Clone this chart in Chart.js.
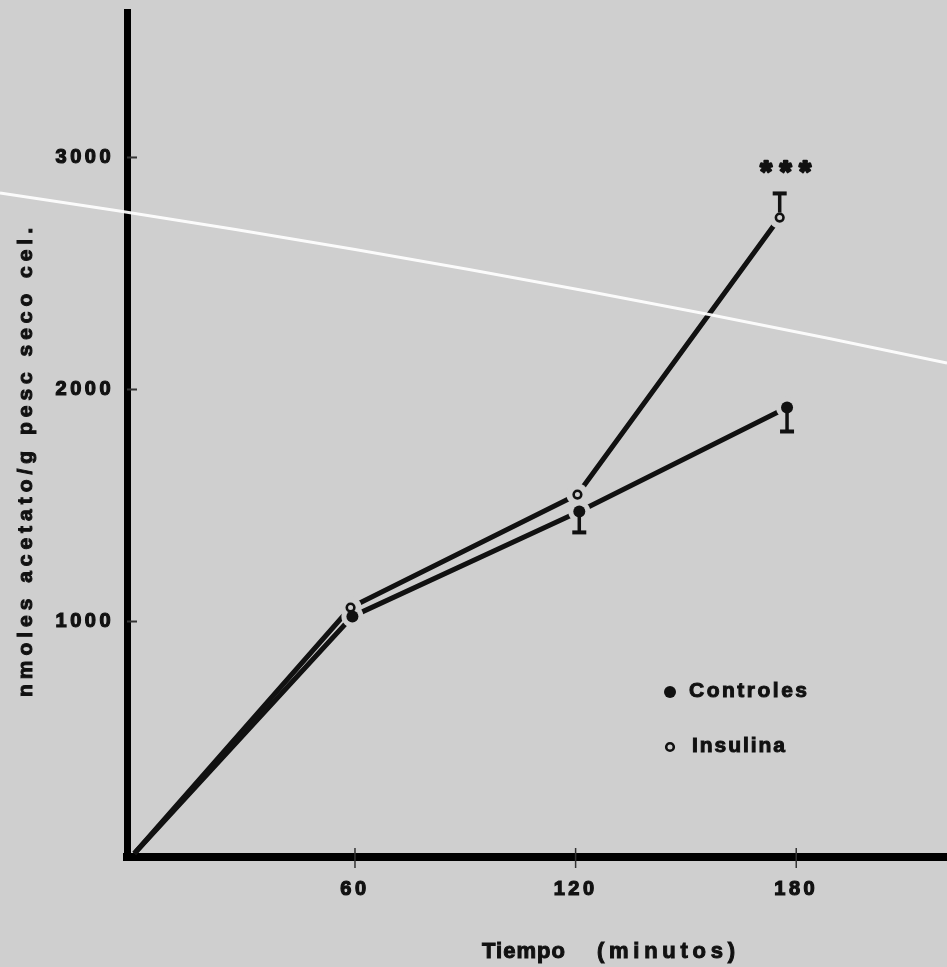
<!DOCTYPE html>
<html>
<head>
<meta charset="utf-8">
<script src="https://cdn.jsdelivr.net/npm/chart.js@4.4.1/dist/chart.umd.min.js"></script>
<style>
    html, body { margin: 0; padding: 0; background: #cfcfcf; }
    #chart { display: block; }
</style>
</head>
<body>
<canvas id="chart" width="947" height="967"></canvas>
<script>
/* ============================= */
/*      DATA                     */
/* ============================= */
const seriesNames = ['Controles', 'Insulina'];
const tiempoControles = [0, 59.3, 121, 177.5];
const valControles = [0, 1022, 1474, 1922];
const errControlesLow = [null, null, 1384, 1819];
const tiempoInsulina = [0, 58.8, 120.5, 175.5];
const valInsulina = [0, 1060, 1547, 2741];
const errInsulinaHigh = [null, null, null, 2845];
const signifInsulina = [null, null, null, '***'];
const xTicks = [60, 120, 180];
const yTicks = [1000, 2000, 3000];
const xTitle = ['Tiempo', '(minutos)'];
const yTitle = 'nmoles acetato/g pesc seco cel.';

/* ============================= */
/*      STYLE                    */
/* ============================= */
const BG = '#cfcfcf';
const INK = '#111111';
const FONT = '"Liberation Sans", Arial, sans-serif';

// draw text stretched with letter spacing so it spans `width` (stroked a bit, like the print)
function spacedText(ctx, text, x, y, width) {
    ctx.letterSpacing = '0px';
    const w = ctx.measureText(text).width;
    const sp = text.length > 1 ? (width - w) / (text.length - 1) : 0;
    ctx.letterSpacing = sp + 'px';
    ctx.textAlign = 'left';
    ctx.lineWidth = 1;
    ctx.strokeStyle = INK;
    ctx.fillText(text, x, y);
    ctx.strokeText(text, x, y);
    ctx.letterSpacing = '0px';
}

/* ============================= */
/*      PLUGINS                  */
/* ============================= */
const paperPlugin = {
    id: 'paper',
    beforeDraw(chart) {
        const ctx = chart.ctx;
        ctx.save();
        ctx.fillStyle = BG;
        ctx.fillRect(0, 0, chart.width, chart.height);
        ctx.restore();
        // tick labels are printed with wide spacing
        ctx.letterSpacing = '3.5px';
    }
};

const markerPlugin = {
    id: 'markers',
    afterDatasetsDraw(chart) {
        const ctx = chart.ctx;
        const yScale = chart.scales.y;
        const metas = chart.data.datasets.map((ds, i) => chart.getDatasetMeta(i));
        ctx.save();
        // halos: lines stop short of the markers
        metas.forEach((meta, i) => {
            meta.data.forEach((pt, j) => {
                if (chart.data.datasets[i].data[j].y === 0) return;
                ctx.fillStyle = BG;
                ctx.beginPath();
                ctx.arc(pt.x, pt.y, 11, 0, Math.PI * 2);
                ctx.fill();
            });
        });
        // error bars
        ctx.strokeStyle = INK;
        ctx.fillStyle = INK;
        const bars = [errControlesLow, errInsulinaHigh];
        metas.forEach((meta, i) => {
            meta.data.forEach((pt, j) => {
                const e = bars[i][j];
                if (e == null) return;
                const ey = yScale.getPixelForValue(e);
                const dir = ey > pt.y ? 1 : -1;
                ctx.lineWidth = 3.5;
                ctx.beginPath();
                ctx.moveTo(pt.x, pt.y + dir * 5);
                ctx.lineTo(pt.x, ey);
                ctx.stroke();
                ctx.fillRect(pt.x - 7, ey - 2, 14, 4);
            });
        });
        // markers
        metas.forEach((meta, i) => {
            meta.data.forEach((pt, j) => {
                if (chart.data.datasets[i].data[j].y === 0) return;
                ctx.beginPath();
                if (i === 0) {
                    ctx.arc(pt.x, pt.y, 6, 0, Math.PI * 2);
                    ctx.fill();
                } else {
                    ctx.lineWidth = 2.6;
                    ctx.arc(pt.x, pt.y, 3.8, 0, Math.PI * 2);
                    ctx.stroke();
                }
            });
        });
        // significance stars
        metas[1].data.forEach((pt, j) => {
            const s = signifInsulina[j];
            if (!s) return;
            const top = yScale.getPixelForValue(errInsulinaHigh[j]);
            ctx.font = 'bold 30px ' + FONT;
            ctx.letterSpacing = '0px';
            const m = ctx.measureText('*');
            const off = (m.actualBoundingBoxAscent - m.actualBoundingBoxDescent) / 2;
            ctx.textAlign = 'center';
            ctx.textBaseline = 'alphabetic';
            ctx.lineWidth = 2.5;
            ctx.lineJoin = 'round';
            for (let k = 0; k < s.length; k++) {
                const sx = pt.x + 6 + (k - 1) * 19.5;
                ctx.fillText(s[k], sx, top - 26 + off);
                ctx.strokeText(s[k], sx, top - 26 + off);
            }
        });
        ctx.restore();
    }
};

const annotatePlugin = {
    id: 'annotate',
    afterDraw(chart) {
        const ctx = chart.ctx;
        const {x, y} = chart.scales;
        ctx.save();
        ctx.letterSpacing = '0px';
        ctx.strokeStyle = '#333';
        // small tick marks on the axes
        ctx.lineWidth = 1.5;
        xTicks.forEach(v => {
            const px = x.getPixelForValue(v);
            ctx.beginPath();
            ctx.moveTo(px, y.bottom - 9);
            ctx.lineTo(px, y.bottom + 11);
            ctx.stroke();
        });
        ctx.lineWidth = 2;
        yTicks.forEach(v => {
            const py = y.getPixelForValue(v);
            ctx.beginPath();
            ctx.moveTo(x.left, py);
            ctx.lineTo(x.left + 10, py);
            ctx.stroke();
        });

        ctx.fillStyle = INK;
        ctx.textBaseline = 'alphabetic';
        // legend inside the plot
        ctx.font = 'bold 21px ' + FONT;
        ctx.beginPath();
        ctx.arc(670, 692, 6, 0, Math.PI * 2);
        ctx.fill();
        spacedText(ctx, seriesNames[0], 689, 697, 118);
        ctx.lineWidth = 2.6;
        ctx.strokeStyle = INK;
        ctx.beginPath();
        ctx.arc(670, 747, 3.8, 0, Math.PI * 2);
        ctx.stroke();
        spacedText(ctx, seriesNames[1], 692, 752, 93);

        // x title
        ctx.font = 'bold 22px ' + FONT;
        spacedText(ctx, xTitle[0], 482, 958, 83);
        spacedText(ctx, xTitle[1], 597, 958, 138);

        // y title, rotated
        ctx.save();
        ctx.translate(32, 697);
        ctx.rotate(-Math.PI / 2);
        ctx.font = 'bold 21px ' + FONT;
        spacedText(ctx, yTitle, 0, 0, 469);
        ctx.restore();

        // scratch across the scanned sheet, over the ink
        ctx.strokeStyle = 'rgba(255,255,255,0.92)';
        ctx.lineWidth = 3;
        ctx.beginPath();
        ctx.moveTo(0, 193);
        ctx.quadraticCurveTo(470, 262, 947, 363);
        ctx.stroke();
        ctx.restore();
    }
};

/* ============================= */
/*      CHART                    */
/* ============================= */
const toPoints = (xs, ys) => xs.map((t, i) => ({ x: t, y: ys[i] }));

const tickFont = { family: FONT, size: 20, weight: 'bold' };

new Chart(document.getElementById('chart'), {
    type: 'line',
    data: {
        datasets: [{
            label: seriesNames[0],
            data: toPoints(tiempoControles, valControles),
            borderColor: INK,
            borderWidth: 5,
            pointRadius: 0,
            tension: 0
        }, {
            label: seriesNames[1],
            data: toPoints(tiempoInsulina, valInsulina),
            borderColor: INK,
            borderWidth: 5,
            pointRadius: 0,
            tension: 0
        }]
    },
    options: {
        responsive: false,
        animation: false,
        devicePixelRatio: 1,
        layout: { padding: { top: 12, right: 0, left: 0, bottom: 0 } },
        plugins: { legend: { display: false }, tooltip: { enabled: false } },
        scales: {
            x: {
                type: 'linear',
                min: -2,
                max: 221,
                afterBuildTicks: s => { s.ticks = xTicks.map(v => ({ value: v })); },
                afterFit: s => { s.height = 110; s.paddingLeft = 0; s.paddingRight = 0; },
                ticks: {
                    font: tickFont, color: INK, padding: 20, maxRotation: 0,
                    textStrokeColor: INK, textStrokeWidth: 1.2,
                    callback: v => String(v)
                },
                grid: { display: false, drawTicks: false },
                border: { display: true, color: '#000', width: 8 }
            },
            y: {
                min: -15,
                max: 3627,
                afterBuildTicks: s => { s.ticks = yTicks.map(v => ({ value: v })); },
                afterFit: s => { s.width = 127; s.paddingTop = 0; s.paddingBottom = 0; },
                ticks: {
                    font: tickFont, color: INK, padding: 13,
                    textStrokeColor: INK, textStrokeWidth: 1.2,
                    callback: v => String(v)
                },
                grid: { display: false, drawTicks: false },
                border: { display: true, color: '#000', width: 7 }
            }
        }
    },
    plugins: [paperPlugin, markerPlugin, annotatePlugin]
});
</script>
</body>
</html>
